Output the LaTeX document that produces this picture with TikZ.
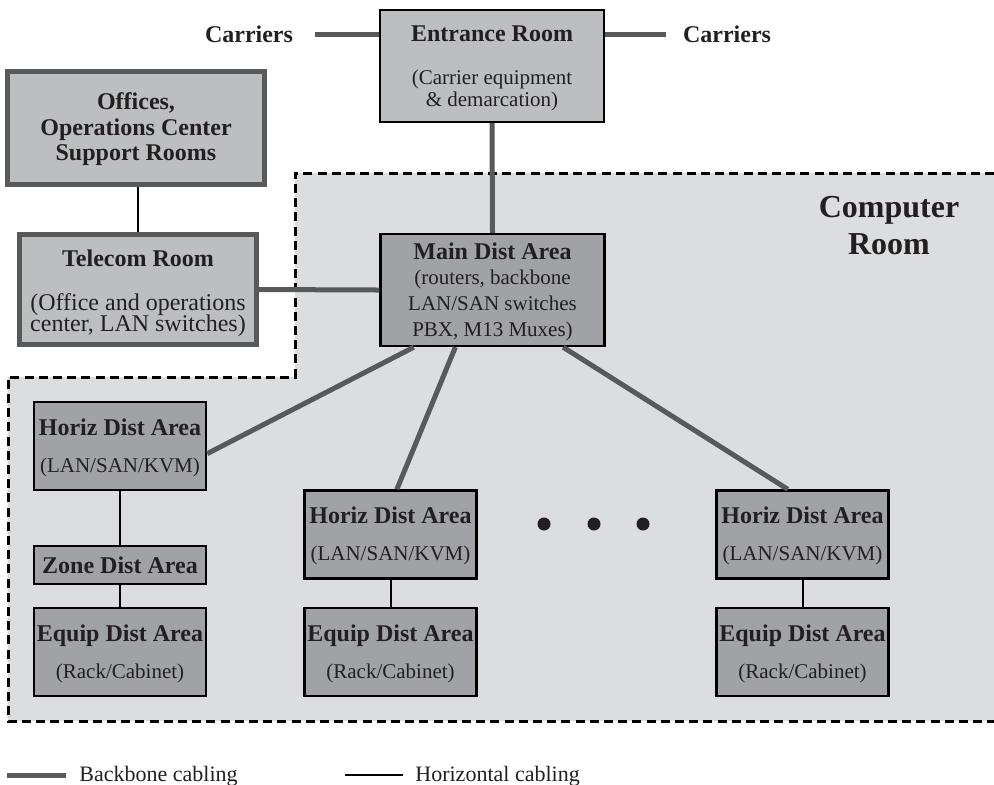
\documentclass[tikz,border=0pt]{standalone}
\usepackage{fontspec}
\setmainfont{Liberation Serif}
\usepackage{tikz}
\definecolor{roomgray}{RGB}{220,221,223}
\definecolor{boxlight}{RGB}{188,190,192}
\definecolor{boxdark}{RGB}{161,162,165}
\definecolor{cablegray}{RGB}{88,89,91}
\definecolor{inkblack}{RGB}{35,31,32}
\newcommand{\ttlfnt}{\fontsize{12}{12}\selectfont\bfseries}
\newcommand{\subfnt}{\fontsize{10.5}{12}\selectfont}
\newcommand{\tstrut}[1][10pt]{\rule{0pt}{#1}}
\lineskiplimit=-20pt

\begin{document}
\begin{tikzpicture}[x=0.5pt, y=-0.5pt,
			roombox/.style={draw=cablegray, line width=2.5pt, fill=boxlight, align=center, inner sep=0pt, text=inkblack},
			lightbox/.style={draw=black, line width=1.2pt, fill=boxlight, align=center, inner sep=0pt, text=inkblack, font=\subfnt},
			areabox/.style={draw=black, line width=1.2pt, fill=boxdark, align=center, inner sep=0pt, text=inkblack, font=\subfnt, minimum width=86pt, minimum height=44pt},
			lbl/.style={font=\ttlfnt, text=inkblack, inner sep=0pt},
			backbone/.style={cablegray, line width=2.5pt},
			horiz/.style={black, line width=1pt},
			dashbox/.style={black, line width=1.5pt, dash pattern=on 4.5pt off 2.6pt}]
			\useasboundingbox (0,0) rectangle (994,784);
			% Computer Room
			\fill[roomgray] (295,173) -- (994,173) -- (994,721) -- (8,721) -- (8,377) -- (295,377) -- cycle;
			\draw[dashbox] (994,173) -- (295,173) -- (295,377) -- (8,377) -- (8,721) -- (994,721);
			\node[lbl, font=\fontsize{16}{18.5}\selectfont\bfseries, align=center] (comp) at (889,226) {Computer\\Room};
			% Raeume oben
			\node[lightbox, minimum width=112pt, minimum height=56pt] (entr) at (492,66)
				{\tstrut{\ttlfnt Entrance Room}\\[9.5pt](Carrier equipment\\[-1pt]\& demarcation)};
			\node[lbl] (carrL) at (249,34) {Carriers};
			\node[lbl] (carrR) at (727,34) {Carriers};
			\node[roombox, minimum width=128.5pt, minimum height=56.5pt, font=\fontsize{12}{12.75}\selectfont\bfseries] (off) at (136,128)
				{\tstrut Offices,\\Operations Center\\Support Rooms};
			\node[roombox, minimum width=118.5pt, minimum height=55pt, font=\fontsize{12}{11}\selectfont] (tel) at (138,289.5)
				{\tstrut[12pt]{\bfseries Telecom Room}\\[10.7pt](Office and operations\\[-0.5pt]center, LAN switches)};
			\node[areabox, minimum width=112pt, minimum height=56pt] (main) at (492.5,290)
				{\tstrut{\ttlfnt Main Dist Area}\\[0.8pt](routers, backbone\\[0.8pt]LAN/SAN switches\\[0.8pt]PBX, M13 Muxes)};
			% Verteilbereiche
			\node[areabox] (h1) at (120,446) {\tstrut{\ttlfnt Horiz Dist Area}\\[6.5pt](LAN/SAN/KVM)};
			\node[areabox, minimum height=19pt] (zone) at (120,565) {{\ttlfnt Zone Dist Area}};
			\node[areabox] (e1) at (120,652) {\tstrut{\ttlfnt Equip Dist Area}\\[6.5pt](Rack/Cabinet)};
			\node[areabox] (h2) at (390.5,534.5) {\tstrut{\ttlfnt Horiz Dist Area}\\[6.5pt](LAN/SAN/KVM)};
			\node[areabox] (e2) at (390.5,652) {\tstrut{\ttlfnt Equip Dist Area}\\[6.5pt](Rack/Cabinet)};
			\node[areabox] (h3) at (802.5,534.5) {\tstrut{\ttlfnt Horiz Dist Area}\\[6.5pt](LAN/SAN/KVM)};
			\node[areabox] (e3) at (802.5,652) {\tstrut{\ttlfnt Equip Dist Area}\\[6.5pt](Rack/Cabinet)};
			\foreach \x in {544,594,643} \fill[inkblack] (\x,524) circle (3.25pt);
			% Backbone-Kabel
			\draw[backbone] ([xshift=11pt]carrL.east) -- (carrL.east -| entr.west);
			\draw[backbone] (entr.east |- carrR.west) -- ([xshift=-8.5pt]carrR.west);
			\draw[backbone] (entr.south) -- (main.north);
			\draw[backbone] (tel.east) -- (main.west);
			\draw[backbone] (main.216) -- (h1.355);
			\draw[backbone] (main.237) -- (h2.82);
			\draw[backbone] (main.321) -- (h3.108);
			% Horizontal-Kabel
			\draw[horiz] (off.south -| tel.north) -- (tel.north);
			\draw[horiz] (h1.south) -- (zone.north);
			\draw[horiz] (zone.south) -- (e1.north);
			\draw[horiz] (h2.south) -- (e2.north);
			\draw[horiz] (h3.south) -- (e3.north);
			% Legende
			\coordinate (bbA) at (7,775);
			\coordinate (bbB) at (66,775);
			\coordinate (hzA) at (345,775);
			\coordinate (hzB) at (403,775);
			\draw[backbone] (bbA) -- (bbB);
			\draw[horiz] (hzA) -- (hzB);
			\node[inner sep=0pt, anchor=base west, font=\fontsize{11}{13}\selectfont, text=inkblack] (bbL) at (79,781) {Backbone cabling};
			\node[inner sep=0pt, anchor=base west, font=\fontsize{11}{13}\selectfont, text=inkblack] (hzL) at (415,781) {Horizontal cabling};
		\end{tikzpicture}
\end{document}
